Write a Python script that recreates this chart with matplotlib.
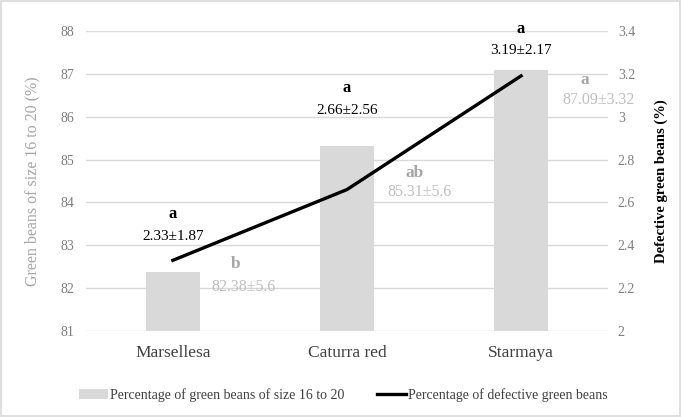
import numpy as np
import matplotlib
matplotlib.use('Agg')
import matplotlib.pyplot as plt
from matplotlib.patches import Rectangle

plt.rcParams['font.family'] = ['Liberation Serif', 'DejaVu Serif']

varieties = ['Marsellesa', 'Caturra red', 'Starmaya']
size_pct = [82.38, 85.31, 87.09]
size_labels = ['82.38±5.6', '85.31±5.6', '87.09±3.32']
size_letters = ['b', 'ab', 'a']
defect_pct = [2.33, 2.66, 3.19]
defect_labels = ['2.33±1.87', '2.66±2.56', '3.19±2.17']
defect_letters = ['a', 'a', 'a']

fig = plt.figure(figsize=(6.81, 4.17), dpi=100)
ax = fig.add_axes([0.126, 0.206, 0.767, 0.72])
ax2 = ax.twinx()

x = np.arange(len(varieties))
bars = ax.bar(x, size_pct, width=0.31, color='#d9d9d9', zorder=2,
              label='Percentage of green beans of size 16 to 20')
ax.set_ylim(81, 88)
ax.set_xlim(-0.5, 2.5)
ax.set_yticks(range(81, 89))
ax.grid(axis='y', color='#d9d9d9', linewidth=1, zorder=0)
ax.set_axisbelow(True)
for s in ax.spines.values():
    s.set_visible(False)
for s in ax2.spines.values():
    s.set_visible(False)
ax.tick_params(axis='y', length=0, labelsize=10, labelcolor='#7f7f7f', pad=8)
ax.tick_params(axis='x', length=0, labelsize=12.5, labelcolor='#404040', pad=10)
ax.set_xticks(x)
ax.set_xticklabels(varieties)
ax.set_ylabel('Green beans of size 16 to 20 (%)', color='#a6a6a6', fontsize=11.5, labelpad=15)

line, = ax2.plot(x, defect_pct, color='black', linewidth=2.4, zorder=4,
                 label='Percentage of defective green beans')
ax2.set_ylim(2, 3.4)
ax2.set_yticks([2, 2.2, 2.4, 2.6, 2.8, 3, 3.2, 3.4])
ax2.set_yticklabels(['2', '2.2', '2.4', '2.6', '2.8', '3', '3.2', '3.4'])
ax2.tick_params(axis='y', length=0, labelsize=10, labelcolor='#7f7f7f', pad=7)
ax2.set_ylabel('Defective green beans (%)', fontsize=10.5, fontweight='bold', labelpad=14)

# labels for the defective line
val_off = [17, 57, 18]
for i in range(len(x)):
    ax2.annotate(defect_labels[i], (x[i], defect_pct[i]), xytext=(0, val_off[i]),
                 textcoords='offset points', ha='center', va='center', fontsize=11, zorder=5)
    ax2.annotate(defect_letters[i], (x[i], defect_pct[i]), xytext=(0, val_off[i] + 16),
                 textcoords='offset points', ha='center', va='center', fontsize=12,
                 fontweight='bold', zorder=5)

# labels for the bars
let_off = [(45, 6), (49, -19), (46, -7)]
num_off = [(51, -11), (52, -33), (56, -22)]
for i in range(len(x)):
    ax.annotate(size_letters[i], (x[i], size_pct[i]), xytext=let_off[i],
                textcoords='offset points', ha='center', va='center', fontsize=12.5,
                fontweight='bold', color='#a6a6a6', zorder=5)
    ax.annotate(size_labels[i], (x[i], size_pct[i]), xytext=num_off[i],
                textcoords='offset points', ha='center', va='center', fontsize=11.5,
                color='#bfbfbf', zorder=5)

fig.legend([bars, line], [bars.get_label(), line.get_label()], loc='center',
           bbox_to_anchor=(0.504, 0.052), ncol=2, frameon=False, fontsize=10,
           handlelength=2.1, handletextpad=0.1, columnspacing=2.4,
           labelcolor='#404040')

fig.patches.append(Rectangle((0.002, 0.003), 0.996, 0.994, transform=fig.transFigure,
                             fill=False, edgecolor='#d9d9d9', linewidth=1.2))

fig.savefig('out.png', dpi=100)
